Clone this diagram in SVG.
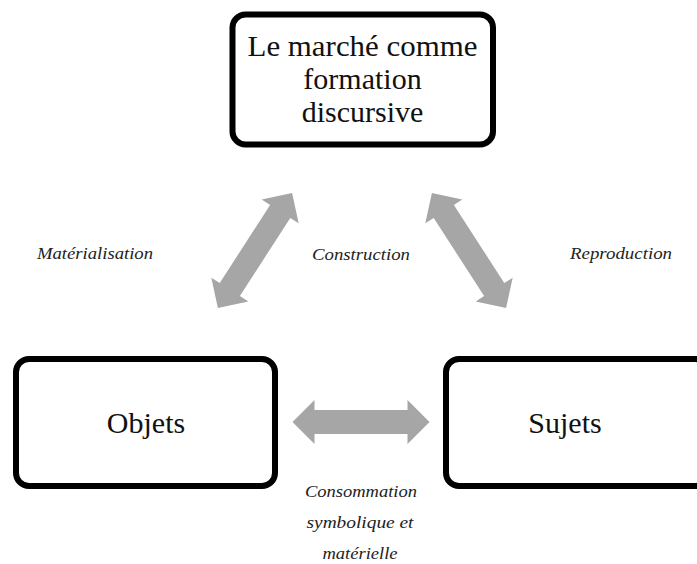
<svg xmlns="http://www.w3.org/2000/svg" width="697" height="564" viewBox="0 0 697 564">
<defs>
<style>
.box{fill:#fff;stroke:#000;stroke-width:6}
.main{font-family:"Liberation Serif","Times New Roman",serif;font-size:30px;fill:#111;text-anchor:middle}
.lbl{font-family:"Liberation Serif","Times New Roman",serif;font-style:italic;font-size:16px;fill:#222;text-anchor:middle}
.arr{fill:#a6a6a6}
</style>
<path id="dbl" d="M-68.5,0 L-46.5,-22 L-46.5,-12 L46.5,-12 L46.5,-22 L68.5,0 L46.5,22 L46.5,12 L-46.5,12 L-46.5,22 Z"/>
</defs>
<rect width="697" height="564" fill="#fff"/>
<g id="connectors">
<use href="#dbl" class="arr" transform="translate(255,250.5) rotate(-57.2)"/>
<use href="#dbl" class="arr" transform="translate(469,250.5) rotate(57.2)"/>
<use href="#dbl" class="arr" transform="translate(361,422)"/>
<text class="lbl" x="95" y="259" textLength="116" lengthAdjust="spacingAndGlyphs">Matérialisation</text>
<text class="lbl" x="361" y="260" textLength="98" lengthAdjust="spacingAndGlyphs">Construction</text>
<text class="lbl" x="621" y="259" textLength="102" lengthAdjust="spacingAndGlyphs">Reproduction</text>
<text class="lbl" x="361" y="497" textLength="112" lengthAdjust="spacingAndGlyphs">Consommation</text>
<text class="lbl" x="360" y="528" textLength="107" lengthAdjust="spacingAndGlyphs">symbolique et</text>
<text class="lbl" x="360" y="559" textLength="75" lengthAdjust="spacingAndGlyphs">matérielle</text>
</g>
<g id="node-marche">
<rect class="box" x="232.5" y="14.5" width="260.5" height="130" rx="13"/>
<text class="main" x="362.5" y="56" textLength="230" lengthAdjust="spacingAndGlyphs">Le marché comme</text>
<text class="main" x="362.5" y="89">formation</text>
<text class="main" x="362.5" y="122">discursive</text>
</g>
<g id="node-objets">
<rect class="box" x="16" y="359" width="259" height="127" rx="13"/>
<text class="main" x="146" y="433">Objets</text>
</g>
<g id="node-sujets">
<rect class="box" x="446" y="359" width="262" height="127" rx="13"/>
<text class="main" x="565" y="433">Sujets</text>
</g>
</svg>
